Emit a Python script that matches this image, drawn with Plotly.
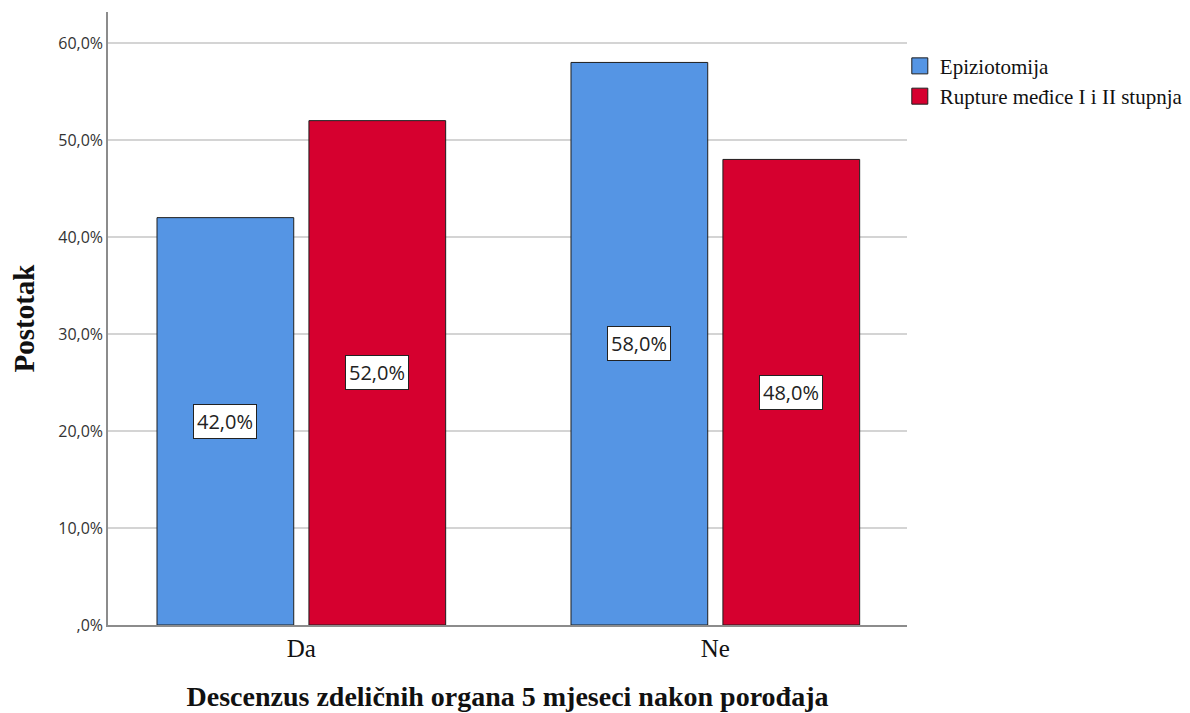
import plotly.graph_objects as go

categories = ["Da", "Ne"]
series_names = ["Epiziotomija", "Rupture međice I i II stupnja"]
epiziotomija = [42.0, 58.0]
rupture = [52.0, 48.0]
colors = ["#5595e4", "#d6002f"]
ytick_vals = [0, 10, 20, 30, 40, 50, 60]
ytick_text = [",0%", "10,0%", "20,0%", "30,0%", "40,0%", "50,0%", "60,0%"]

def fmt(v):
    return f"{v:.1f}".replace(".", ",") + "%"

bargap = 0.266
bargroupgap = 0.1
edge = "#1e1e1e"

fig = go.Figure()
all_series = [epiziotomija, rupture]
for name, vals, col in zip(series_names, all_series, colors):
    fig.add_trace(go.Bar(
        x=categories, y=vals, name=name, showlegend=False,
        marker=dict(color=col, line=dict(color=edge, width=1)),
    ))
# legend entries with larger square swatches
for name, col in zip(series_names, colors):
    fig.add_trace(go.Scatter(
        x=[None], y=[None], mode="markers", name=name, showlegend=True,
        marker=dict(symbol="square", size=20, color=col, line=dict(color=edge, width=1)),
    ))

# value labels in boxes at bar centres
n = len(all_series)
slot = (1 - bargap) / n
annotations = []
for si, vals in enumerate(all_series):
    offset = -(1 - bargap) / 2 + slot * (si + 0.5)
    for ci, v in enumerate(vals):
        annotations.append(dict(
            x=ci + offset, y=v / 2, xref="x", yref="y", text=fmt(v),
            showarrow=False, font=dict(family="Open Sans", size=20, color="#222"),
            bgcolor="white", bordercolor="#222", borderwidth=1, borderpad=3,
        ))

fig.update_layout(
    width=1182, height=705,
    margin=dict(l=100, r=283, t=4, b=88, autoexpand=False),
    paper_bgcolor="white", plot_bgcolor="white",
    barmode="group", bargap=bargap, bargroupgap=bargroupgap,
    showlegend=True,
    legend=dict(x=0.991, y=0.945, xanchor="left", yanchor="top",
                font=dict(family="Liberation Serif", size=21, color="#111"),
                bgcolor="rgba(0,0,0,0)", tracegroupgap=0, itemwidth=30,
                itemsizing="trace"),
    annotations=annotations,
    xaxis=dict(
        type="category", range=[-0.467, 1.463], automargin=False,
        showline=True, linecolor="#8c8c8c", linewidth=1.5,
        ticks="", tickfont=dict(family="Liberation Serif", size=25, color="#111"),
        title=dict(text="<b>Descenzus zdeličnih organa 5 mjeseci nakon porođaja</b>",
                   font=dict(family="Liberation Serif", size=28, color="#111"), standoff=26),
        showgrid=False,
    ),
    yaxis=dict(
        range=[0, 63.2], tickvals=ytick_vals, ticktext=ytick_text, automargin=False,
        showline=True, linecolor="#8c8c8c", linewidth=1.5,
        showgrid=True, gridcolor="#d4d4d4", gridwidth=2,
        tickfont=dict(family="Open Sans", size=16, color="#333"),
        ticks="", ticklen=0,
        title=dict(text="<b>Postotak</b>",
                   font=dict(family="Liberation Serif", size=29, color="#111"), standoff=19),
        zeroline=False,
    ),
)

fig.write_html("out.html")
